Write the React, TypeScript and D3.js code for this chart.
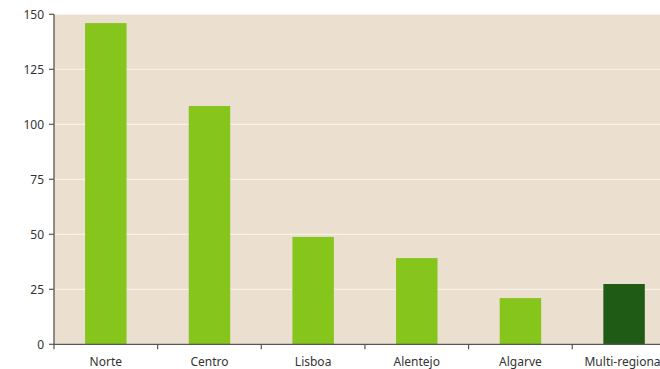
import React from "react";
import * as d3 from "d3";

const categories = ["Norte", "Centro", "Lisboa", "Alentejo", "Algarve", "Multi-regional"];
const values = [146, 108.3, 48.8, 39.2, 21, 27.4];
const barColors = ["#86C51B", "#86C51B", "#86C51B", "#86C51B", "#86C51B", "#1F5B15"];
const yTicks = [0, 25, 50, 75, 100, 125, 150];

const W = 660;
const H = 369;
const left = 54;
const top = 14.3;
const bottom = 344.3;
const step = 103.65;

export default function App() {
  const x = d3.scaleBand<string>().domain(categories).range([left, left + step * categories.length]).padding(0);
  const y = d3.scaleLinear().domain([0, 150]).range([bottom, top]);
  const bw = x.bandwidth();
  const font = "'Century Gothic', 'URW Gothic', 'Noto Sans', sans-serif";
  return (
    <div style={{ position: "absolute", left: 0, top: 0 }}>
      <svg width={W} height={H} style={{ display: "block" }}>
        <rect x={0} y={0} width={W} height={H} fill="#ffffff" />
        <rect x={left} y={top} width={W - left} height={bottom - top} fill="#EBDFCF" />
        {yTicks.map((t) => (
          <line key={"g" + t} x1={left} x2={W} y1={y(t)} y2={y(t)} stroke="#F7F1EA" strokeWidth={1.3} />
        ))}
        {categories.map((c, i) => (
          <rect key={c} x={x(c)! + bw * 0.3} y={y(values[i])} width={bw * 0.4} height={y(0) - y(values[i])} fill={barColors[i]} />
        ))}
        <line x1={left} x2={left} y1={top} y2={bottom} stroke="#555" strokeWidth={1.3} />
        <line x1={left} x2={W} y1={bottom} y2={bottom} stroke="#555" strokeWidth={1.3} />
        {yTicks.map((t) => (
          <g key={"y" + t}>
            <line x1={left - 5} x2={left} y1={y(t)} y2={y(t)} stroke="#555" strokeWidth={1.2} />
            <text x={left - 10} y={y(t)} dy="0.35em" textAnchor="end" fontSize={12} fontFamily={font} fill="#333">
              {t}
            </text>
          </g>
        ))}
        {categories.map((c) => (
          <line key={"t" + c} x1={x(c)!} x2={x(c)!} y1={bottom} y2={bottom + 5} stroke="#555" strokeWidth={1.2} />
        ))}
        {categories.map((c) => (
          <text key={"l" + c} x={x(c)! + bw / 2} y={366} textAnchor="middle" fontSize={12} fontFamily={font} fill="#333">
            {c}
          </text>
        ))}
      </svg>
    </div>
  );
}
